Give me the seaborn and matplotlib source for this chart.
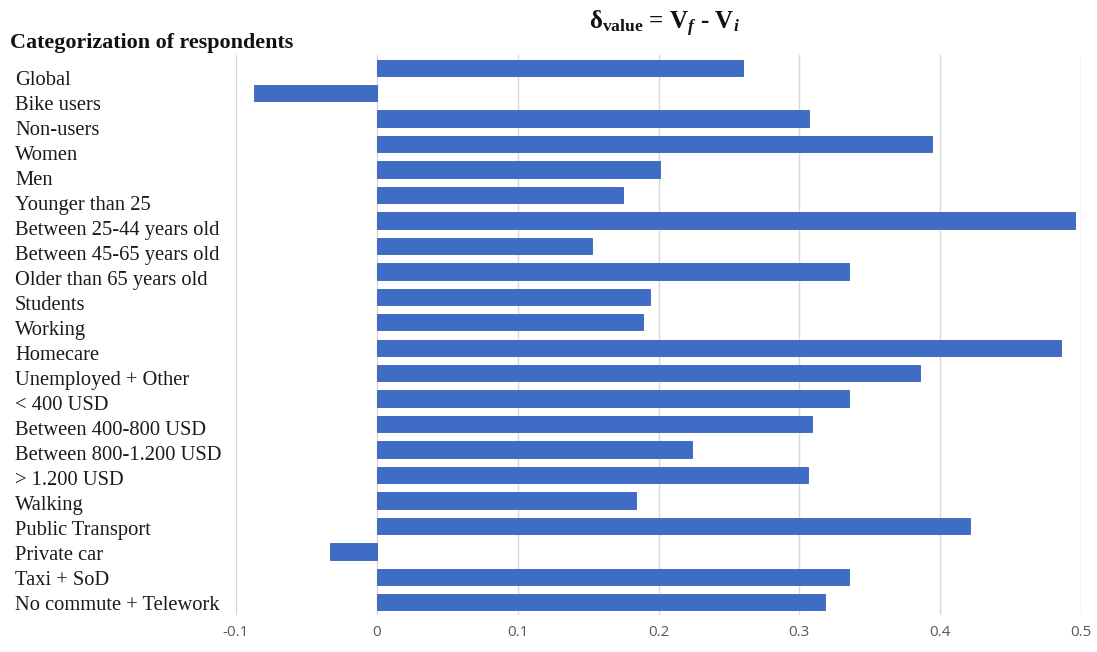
import matplotlib
matplotlib.use("Agg")
import matplotlib.pyplot as plt
import seaborn as sns
import pandas as pd

categories = [
    "Global", "Bike users", "Non-users", "Women", "Men",
    "Younger than 25", "Between 25-44 years old", "Between 45-65 years old",
    "Older than 65 years old", "Students", "Working", "Homecare",
    "Unemployed + Other", "< 400 USD", "Between 400-800 USD",
    "Between 800-1.200 USD", "> 1.200 USD", "Walking", "Public Transport",
    "Private car", "Taxi + SoD", "No commute + Telework",
]
delta_values = [
    0.260, -0.087, 0.307, 0.394, 0.201, 0.175, 0.496, 0.153, 0.335,
    0.194, 0.189, 0.486, 0.386, 0.335, 0.309, 0.224, 0.306, 0.184,
    0.421, -0.033, 0.335, 0.318,
]
x_ticks = [-0.1, 0, 0.1, 0.2, 0.3, 0.4, 0.5]
x_tick_labels = ["-0.1", "0", "0.1", "0.2", "0.3", "0.4", "0.5"]

df = pd.DataFrame({"category": categories, "delta": delta_values})

sns.set_theme(style="white")
plt.rcParams["mathtext.fontset"] = "custom"
plt.rcParams["mathtext.rm"] = "Liberation Serif:bold"
plt.rcParams["mathtext.bf"] = "Liberation Serif:bold"
plt.rcParams["mathtext.it"] = "Liberation Serif:italic:bold"

W, H = 1097, 652
fig = plt.figure(figsize=(W / 100, H / 100), dpi=100)
ax = fig.add_axes([236 / W, 1 - 615 / H, (1081 - 236) / W, (615 - 55) / H])

sns.barplot(data=df, x="delta", y="category", orient="h", color="#3F6DC6",
            width=0.64, edgecolor="#3862B8", linewidth=0.6, saturation=1, ax=ax)

ax.set_xlim(-0.1, 0.5)
ax.set_ylim(len(categories) - 0.5, -0.5)
ax.set_xticks(x_ticks)
ax.set_xticklabels(x_tick_labels, fontsize=11, color="#595959", family="Open Sans")
ax.xaxis.grid(True, color="#D9D9D9", linewidth=1)
ax.set_axisbelow(True)
for s in ax.spines.values():
    s.set_visible(False)
ax.tick_params(axis="x", length=0, pad=7)
ax.set_yticks([])
ax.set_xlabel("")
ax.set_ylabel("")

# category names listed down the left margin
baseline_px, step_px = 85, 25.0
for i, name in enumerate(categories):
    fig.text(15 / W, 1 - (baseline_px + i * step_px) / H, name, family="Liberation Serif",
             fontsize=14.8, va="baseline", ha="left", color="#1a1a1a")

fig.text(664 / W, 1 - 29 / H,
         r"$\mathbf{δ}_{\mathbf{value}}$ = V$_{\mathit{f}}$ - V$_{\mathit{i}}$",
         family="Liberation Serif", fontweight="bold", fontsize=18,
         ha="center", va="baseline", color="#111111")
fig.text(10 / W, 1 - 43 / H, "Categorization of respondents", family="Liberation Serif",
         fontweight="bold", fontsize=15.8, va="center", ha="left", color="#111111")

fig.savefig("out.png", dpi=100)
